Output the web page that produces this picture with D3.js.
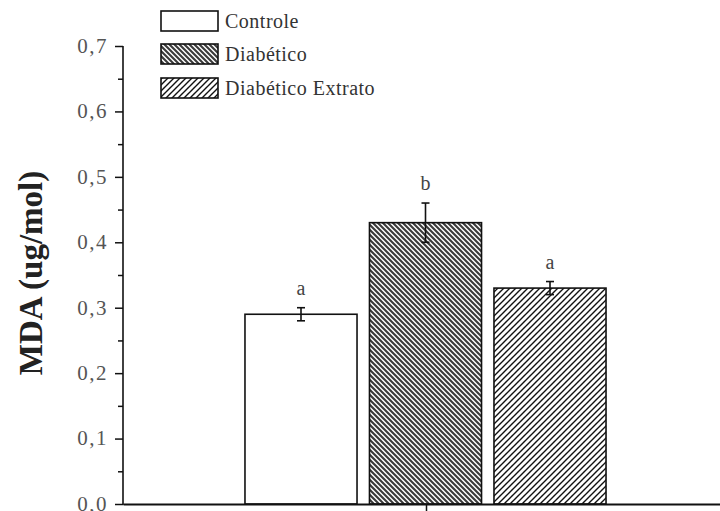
<!DOCTYPE html>
<html>
<head>
<meta charset="utf-8">
<script src="https://cdn.jsdelivr.net/npm/d3@7"></script>
<style>
  html, body { margin: 0; padding: 0; background: #fff; }
  svg { display: block; }
  text { font-family: "Liberation Serif", "Times New Roman", serif; }
</style>
</head>
<body>
<svg id="chart" width="720" height="511"></svg>
<script>
// Groups, mean MDA values, standard errors and significance letters
const groups = ["Controle", "Diabético", "Diabético Extrato"];
const means = [0.29, 0.43, 0.33];
const errors = [0.01, 0.03, 0.01];
const letters = ["a", "b", "a"];
const yTicks = [0, 0.1, 0.2, 0.3, 0.4, 0.5, 0.6, 0.7];
const yTickLabels = ["0,0", "0,1", "0,2", "0,3", "0,4", "0,5", "0,6", "0,7"];
const yMinorTicks = [0.05, 0.15, 0.25, 0.35, 0.45, 0.55, 0.65];

const svg = d3.select("#chart");
const plot = { left: 123, right: 729, top: 46, bottom: 504 };

const y = d3.scaleLinear().domain([0, 0.7]).range([plot.bottom, plot.top]);
const x = d3.scaleBand().domain(groups)
  .range([238.75, 612.25]).paddingInner(0.1).paddingOuter(0.05);

// Hatch patterns
const defs = svg.append("defs");
const pDiab = defs.append("pattern").attr("id", "hatchDiab")
  .attr("patternUnits", "userSpaceOnUse").attr("width", 5).attr("height", 5);
pDiab.append("rect").attr("width", 5).attr("height", 5).attr("fill", "#fff");
pDiab.append("path").attr("d", "M-1,-1 L6,6 M-1,4 L1,6 M4,-1 L6,1")
  .attr("stroke", "#3a3a3a").attr("stroke-width", 2.1);

const pExt = defs.append("pattern").attr("id", "hatchExt")
  .attr("patternUnits", "userSpaceOnUse").attr("width", 6).attr("height", 6);
pExt.append("rect").attr("width", 6).attr("height", 6).attr("fill", "#fff");
pExt.append("path").attr("d", "M-1,7 L7,-1 M-1,1 L1,-1 M5,7 L7,5")
  .attr("stroke", "#111").attr("stroke-width", 1.4);

const fills = ["#fff", "url(#hatchDiab)", "url(#hatchExt)"];

// Bars
svg.append("g").selectAll("rect").data(groups).join("rect")
  .attr("x", d => x(d))
  .attr("y", (d, i) => y(means[i]))
  .attr("width", x.bandwidth())
  .attr("height", (d, i) => y(0) - y(means[i]))
  .attr("fill", (d, i) => fills[i])
  .attr("stroke", "#111").attr("stroke-width", 1.6);

// Error bars
const eb = svg.append("g").attr("stroke", "#111").attr("stroke-width", 1.6);
groups.forEach((g, i) => {
  const cx = x(g) + x.bandwidth() / 2;
  const y1 = y(means[i] + errors[i]), y0 = y(means[i] - errors[i]);
  eb.append("line").attr("x1", cx).attr("x2", cx).attr("y1", y1).attr("y2", y0);
  eb.append("line").attr("x1", cx - 4).attr("x2", cx + 4).attr("y1", y1).attr("y2", y1);
  eb.append("line").attr("x1", cx - 4).attr("x2", cx + 4).attr("y1", y0).attr("y2", y0);
});

// Significance letters
svg.append("g").selectAll("text").data(groups).join("text")
  .attr("x", d => x(d) + x.bandwidth() / 2)
  .attr("y", (d, i) => y(means[i] + errors[i]) - 13)
  .attr("text-anchor", "middle")
  .attr("font-size", 20).attr("fill", "#444")
  .text((d, i) => letters[i]);

// Y axis
const yAxis = svg.append("g").attr("transform", `translate(${plot.left},0)`);
yAxis.call(d3.axisLeft(y).tickValues(yTicks).tickSize(8)
  .tickFormat((d, i) => yTickLabels[i]).tickPadding(7));
yAxis.select(".domain").remove();
yAxis.selectAll(".tick line").attr("stroke", "#111").attr("stroke-width", 1.5);
yAxis.selectAll(".tick text").attr("font-size", 21).attr("fill", "#555")
  .attr("letter-spacing", 1.5).attr("dy", "0.3em")
  .attr("font-family", "Liberation Serif, serif");
const yMinor = svg.append("g").attr("transform", `translate(${plot.left},0)`);
yMinor.call(d3.axisLeft(y).tickValues(yMinorTicks).tickSize(5).tickFormat(""));
yMinor.select(".domain").remove();
yMinor.selectAll(".tick line").attr("stroke", "#111").attr("stroke-width", 1.5);
svg.append("line").attr("x1", plot.left).attr("x2", plot.left)
  .attr("y1", y(0.7)).attr("y2", y(0) + 1)
  .attr("stroke", "#111").attr("stroke-width", 1.6);

// X axis baseline with centre tick
const xAxisLine = d3.scaleLinear().domain([0, 1]).range([plot.left, plot.right]);
const xAxis = svg.append("g").attr("transform", `translate(0,${y(0)})`);
xAxis.call(d3.axisBottom(xAxisLine).tickValues([0.5]).tickSize(8).tickFormat("").tickSizeOuter(0));
xAxis.select(".domain").attr("stroke", "#111").attr("stroke-width", 2);
xAxis.selectAll(".tick line").attr("stroke", "#111").attr("stroke-width", 1.5);

// Y axis title
svg.append("text")
  .attr("transform", `translate(42,${(plot.top + plot.bottom) / 2 - 2}) rotate(-90)`)
  .attr("text-anchor", "middle")
  .attr("font-size", 33).attr("font-weight", "bold").attr("fill", "#222")
  .text("MDA (ug/mol)");

// Legend
const legend = svg.append("g");
const legendY = [11, 44, 78];
groups.forEach((g, i) => {
  legend.append("rect").attr("x", 161).attr("y", legendY[i])
    .attr("width", 57).attr("height", 20)
    .attr("fill", fills[i]).attr("stroke", "#111").attr("stroke-width", 1.6);
  legend.append("text").attr("x", 225).attr("y", legendY[i] + 17)
    .attr("font-size", 20).attr("fill", "#333").attr("letter-spacing", 0.5)
    .text(g);
});
</script>
</body>
</html>
